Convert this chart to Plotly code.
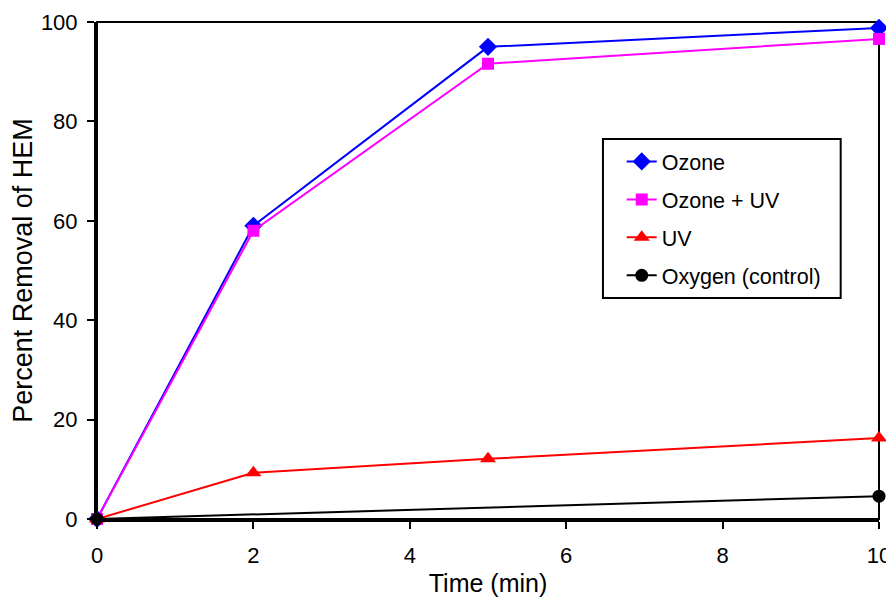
import plotly.graph_objects as go

time_ozone = [0, 2, 5, 10]
ozone = [0, 59.0, 95.0, 98.8]
time_ozone_uv = [0, 2, 5, 10]
ozone_uv = [0, 58.0, 91.6, 96.6]
time_uv = [0, 2, 5, 10]
uv = [0, 9.3, 12.1, 16.3]
time_oxygen = [0, 10]
oxygen = [0, 4.6]

x_ticks = [0, 2, 4, 6, 8, 10]
y_ticks = [0, 20, 40, 60, 80, 100]

series = [
    ("Ozone", time_ozone, ozone, "#0000FF", "diamond", 14),
    ("Ozone + UV", time_ozone_uv, ozone_uv, "#FF00FF", "square", 12),
    ("UV", time_uv, uv, "#FF0000", "triangle-up", 14),
    ("Oxygen (control)", time_oxygen, oxygen, "#000000", "circle", 13),
]

fig = go.Figure()
for i, (name, xs, ys, color, sym, size) in enumerate(series):
    fig.add_trace(go.Scatter(
        x=xs, y=ys, name=name, mode="lines+markers", legendgroup=f"g{i}",
        line=dict(color=color, width=2),
        marker=dict(symbol=sym, size=size, color=color),
        cliponaxis=False,
    ))

font = "Liberation Sans, Arial, sans-serif"
# page body adds an 8px offset; margins compensate so the plot area sits at
# x 97..879, y 22..519 in the window
fig.update_layout(
    width=886, height=589,
    paper_bgcolor="white", plot_bgcolor="white",
    margin=dict(l=89, r=15, t=14, b=78, autoexpand=False),
    font=dict(family=font, size=22, color="black"),
    xaxis=dict(
        range=[0, 10], tickvals=x_ticks, showgrid=False, zeroline=False,
        showline=True, linecolor="black", linewidth=3, automargin=False,
        ticks="outside", ticklen=7, tickwidth=2, tickcolor="black",
        ticklabelstandoff=8,
        title=dict(text="Time (min)", font=dict(size=25), standoff=11),
    ),
    yaxis=dict(
        range=[0, 100], tickvals=y_ticks, showgrid=False, zeroline=False,
        showline=True, linecolor="black", linewidth=3, automargin=False,
        ticks="outside", ticklen=7, tickwidth=2, tickcolor="black",
        ticklabelstandoff=5,
        title=dict(text="Percent Removal of HEM", font=dict(size=27), standoff=6),
    ),
    legend=dict(
        x=0.671, y=0.7606, xanchor="left", yanchor="top",
        bgcolor="rgba(0,0,0,0)", borderwidth=0,
        font=dict(size=21.5), tracegroupgap=7, itemwidth=30,
    ),
    shapes=[
        dict(type="rect", xref="paper", yref="paper", x0=0, y0=0, x1=1, y1=1,
             line=dict(color="black", width=2), layer="below"),
        dict(type="rect", xref="paper", yref="paper", x0=0.647, y0=0.4447,
             x1=0.951, y1=0.7646, line=dict(color="black", width=2),
             fillcolor="white", layer="below"),
    ],
)

fig.write_html("out.html")
